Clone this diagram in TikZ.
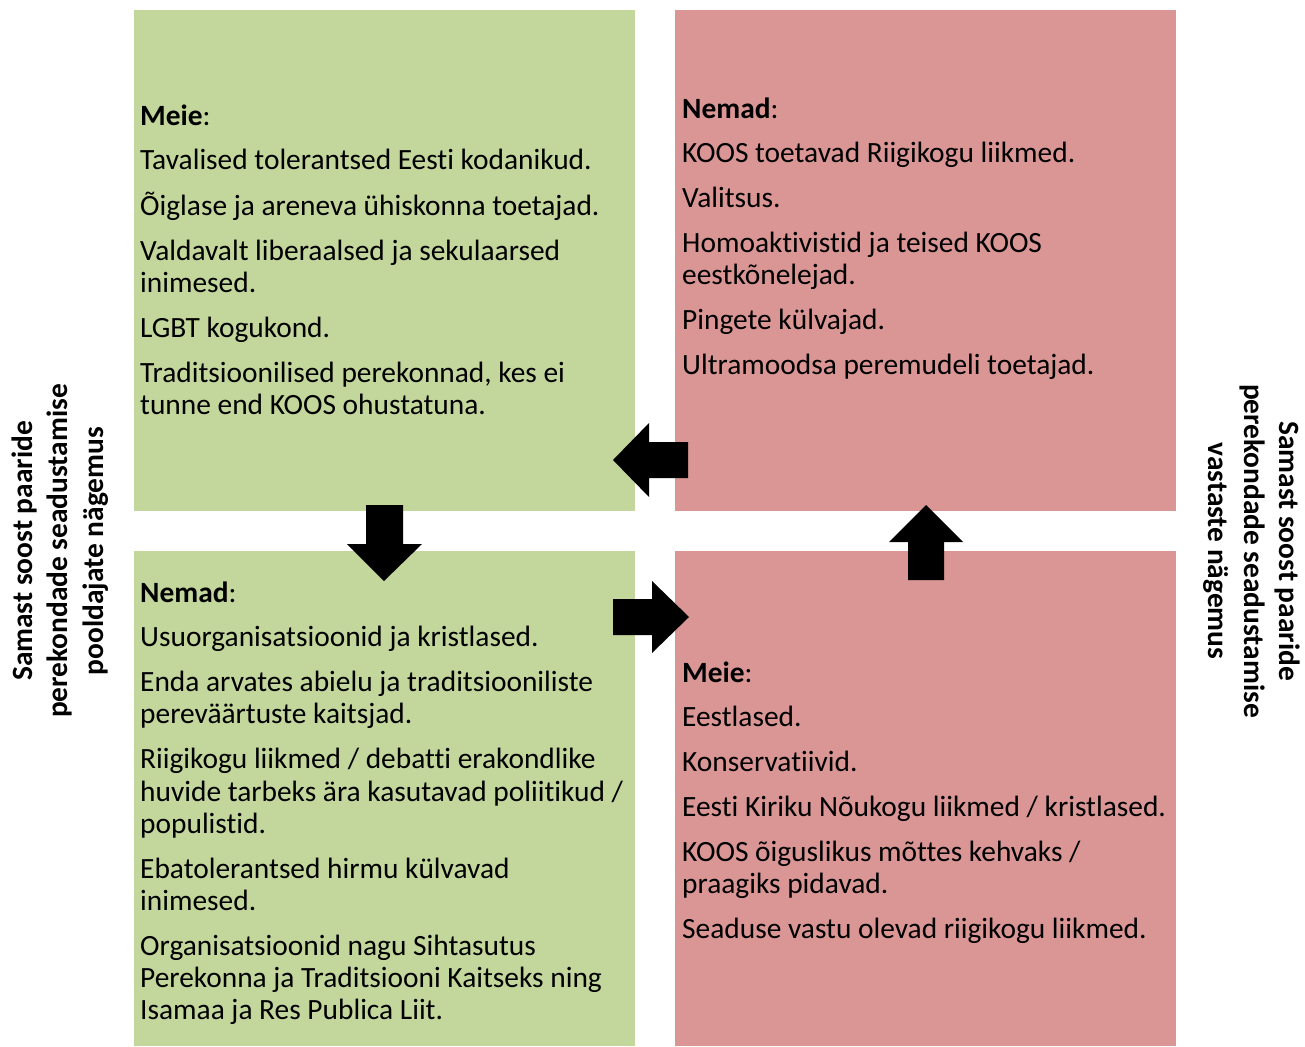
\documentclass[tikz,border=0pt]{standalone}
\usepackage{fontspec}
\setmainfont{Carlito}[Ligatures={NoCommon,NoRequired,NoContextual},Contextuals=NoAlternate]
\definecolor{boxgreen}{HTML}{C3D69B}
\definecolor{boxred}{HTML}{D99694}
\newcommand{\itemlist}[1]{\begin{tabular}[t]{@{}l@{}}#1\end{tabular}}
\begin{document}
\begin{tikzpicture}[x=1pt,y=-1pt,
  txt/.style={anchor=base west,inner sep=0pt,font=\fontsize{29.4}{32.3}\selectfont},
  side/.style={inner sep=0pt,align=center,font=\fontsize{29.4}{35.5}\selectfont\bfseries},
  blockarrow/.style={fill=black,draw=none}]
\useasboundingbox (0,0) rectangle (1305,1046);
% quadrants
\fill[boxgreen] (134,10) rectangle (635,511);
\fill[boxred] (675,10) rectangle (1176,511);
\fill[boxgreen] (134,551) rectangle (635,1046);
\fill[boxred] (675,551) rectangle (1176,1046);
% texts
\node[txt] (tl) at (140,125) {\itemlist{\textbf{Meie}:\\[12.5pt]
Tavalised tolerantsed Eesti kodanikud.\\[12.5pt]
Õiglase ja areneva ühiskonna toetajad.\\[12.5pt]
Valdavalt liberaalsed ja sekulaarsed\\inimesed.\\[12.5pt]
LGBT kogukond.\\[12.5pt]
Traditsioonilised perekonnad, kes ei\\tunne end KOOS ohustatuna.}};
\node[txt] (tr) at (682,118) {\itemlist{\textbf{Nemad}:\\[12.5pt]
KOOS toetavad Riigikogu liikmed.\\[12.5pt]
Valitsus.\\[12.5pt]
Homoaktivistid ja teised KOOS\\eestkõnelejad.\\[12.5pt]
Pingete külvajad.\\[12.5pt]
Ultramoodsa peremudeli toetajad.}};
\node[txt] (bl) at (140,602) {\itemlist{\textbf{Nemad}:\\[12.5pt]
Usuorganisatsioonid ja kristlased.\\[12.5pt]
Enda arvates abielu ja traditsiooniliste\\pereväärtuste kaitsjad.\\[12.5pt]
Riigikogu liikmed / debatti erakondlike\\huvide tarbeks ära kasutavad poliitikud /\\populistid.\\[12.5pt]
Ebatolerantsed hirmu külvavad\\inimesed.\\[12.5pt]
Organisatsioonid nagu Sihtasutus\\Perekonna ja Traditsiooni Kaitseks ning\\Isamaa ja Res Publica Liit.}};
\node[txt] (br) at (682,682) {\itemlist{\textbf{Meie}:\\[12.5pt]
Eestlased.\\[12.5pt]
Konservatiivid.\\[12.5pt]
Eesti Kiriku Nõukogu liikmed / kristlased.\\[12.5pt]
KOOS õiguslikus mõttes kehvaks /\\praagiks pidavad.\\[12.5pt]
Seaduse vastu olevad riigikogu liikmed.}};
% side labels
\node[side,rotate=90] (left) at (60,551) {Samast soost paaride\\perekondade seadustamise\\pooldajate nägemus};
\node[side,rotate=-90] (right) at (1252,551) {Samast soost paaride\\perekondade seadustamise\\vastaste nägemus};
% block arrows
\fill[blockarrow] (688,442) -- (649,442) -- (649,423) -- (613,460) -- (649,497) -- (649,478) -- (688,478) -- cycle;
\fill[blockarrow] (366,505) -- (403,505) -- (403,544) -- (422,544) -- (384,581) -- (347,544) -- (366,544) -- cycle;
\fill[blockarrow] (613,599) -- (652,599) -- (652,581) -- (689,617) -- (652,653) -- (652,635) -- (613,635) -- cycle;
\fill[blockarrow] (908,580) -- (908,542) -- (889,542) -- (926,505) -- (963,542) -- (944,542) -- (944,580) -- cycle;
\end{tikzpicture}
\end{document}
